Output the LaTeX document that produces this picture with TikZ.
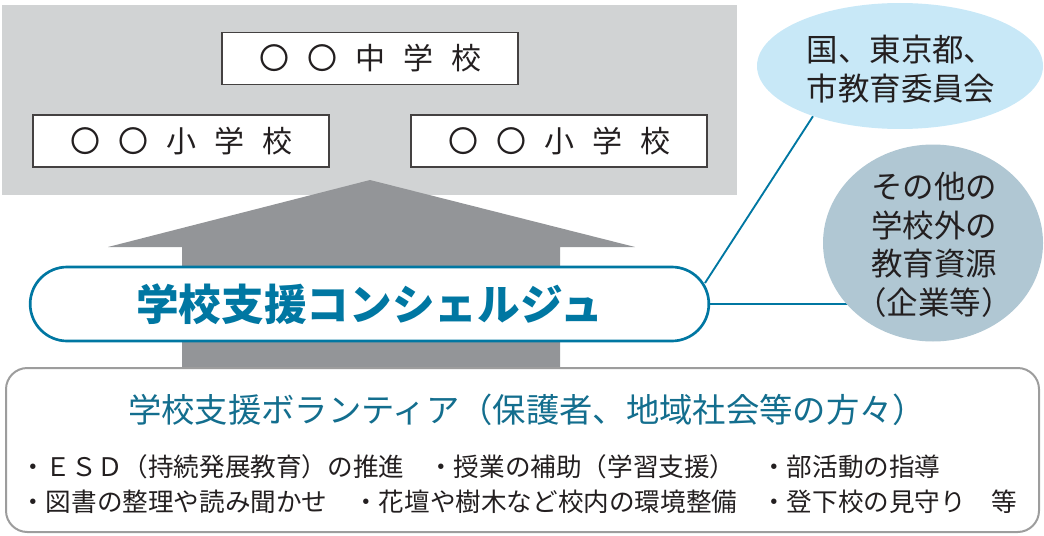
\documentclass[tikz,border=0pt]{standalone}
\usepackage{fontspec}
\newfontfamily\cjk{Noto Sans CJK JP}
\usetikzlibrary{shapes.geometric}
\definecolor{bggray}{HTML}{D1D3D4}
\definecolor{arrowgray}{HTML}{939598}
\definecolor{cblue}{HTML}{0077A2}
\definecolor{tblue}{HTML}{136E8E}
\definecolor{lblue}{HTML}{C8E8F7}
\definecolor{sblue}{HTML}{B0C7D3}
\definecolor{ink}{HTML}{231F20}
\definecolor{framegray}{HTML}{9D9D9D}
\pgfdeclarelayer{bg}
\pgfsetlayers{bg,main}
\newcommand\spacedfive[5]{#1\hspace{13.5pt}#2\hspace{13.5pt}#3\hspace{13.5pt}#4\hspace{13.5pt}#5}
\begin{document}
\begin{tikzpicture}[x=0.75pt,y=-0.75pt,
  schoolbox/.style={draw=ink!85, line width=0.8pt, fill=white, minimum width=222pt,
    minimum height=39pt, inner sep=0pt, font=\cjk\fontsize{22.5}{26}\selectfont, text=ink},
  bubble/.style={ellipse, inner sep=0pt},
  bubbletext/.style={inner sep=0pt, align=center, text=ink, font=\cjk\fontsize{23.6}{28.9}\selectfont},
  conn/.style={draw=cblue, line width=1.4pt},
  itemtext/.style={anchor=west, inner sep=0pt, text=ink, font=\cjk\fontsize{19.2}{23}\selectfont}
]
\useasboundingbox (0,0) rectangle (1044,535);
% background panel
\fill[bggray] (2,5) rectangle (737,195);
\node[schoolbox] (jhs) at (370,58.5) {\spacedfive{〇}{〇}{中}{学}{校}};
\node[schoolbox] (es1) at (181,141) {\spacedfive{〇}{〇}{小}{学}{校}};
\node[schoolbox] (es2) at (559,141) {\spacedfive{〇}{〇}{小}{学}{校}};
% big arrow
\fill[arrowgray] (370,180) -- (635,247) -- (560,247) -- (560,370) -- (182,370)
  -- (182,247) -- (108,247) -- cycle;
% concierge
\node[draw=cblue, line width=2pt, fill=white, rounded corners=27.75pt,
  minimum width=509pt, minimum height=55.5pt, inner sep=0pt, text=cblue,
  font=\cjk\bfseries\fontsize{32}{36}\selectfont] (conc) at (369.5,304) {学校支援コンシェルジュ};
% outside resources
\node[bubble, fill=lblue, minimum width=214.5pt, minimum height=94.5pt] (gov) at (900,66) {};
\node[bubbletext] (govtext) at (901,69) {国、東京都、\\市教育委員会};
\node[bubble, fill=sblue, minimum width=165pt, minimum height=147.75pt] (other) at (933,243) {};
\node[bubbletext] (othertext) at (934,245) {その他の\\学校外の\\教育資源\\（企業等）};
\coordinate (j1) at (705,283);
\begin{pgfonlayer}{bg}
\draw[conn] (conc.east) -- (other.center |- conc.east);
\draw[conn] (j1) -- (gov.210);
\end{pgfonlayer}
% volunteers
\node[draw=framegray, line width=1.5pt, rounded corners=16pt, fill=white,
  minimum width=774.75pt, minimum height=123pt] (vol) at (522.5,450) {};
\node[inner sep=0pt, text=tblue, font=\cjk\fontsize{25}{30}\selectfont] (voltitle) at (527,410)
  {学校支援ボランティア（保護者、地域社会等の方々）};
\node[itemtext] (i1) at (20,467) {・ＥＳＤ（持続発展教育）の推進};
\node[itemtext] (i2) at (428,467) {・授業の補助（学習支援）};
\node[itemtext] (i3) at (761,467) {・部活動の指導};
\node[itemtext] (i4) at (20,502) {・図書の整理や読み聞かせ};
\node[itemtext] (i5) at (353,502) {・花壇や樹木など校内の環境整備};
\node[itemtext] (i6) at (761,502) {・登下校の見守り　等};
\end{tikzpicture}
\end{document}
